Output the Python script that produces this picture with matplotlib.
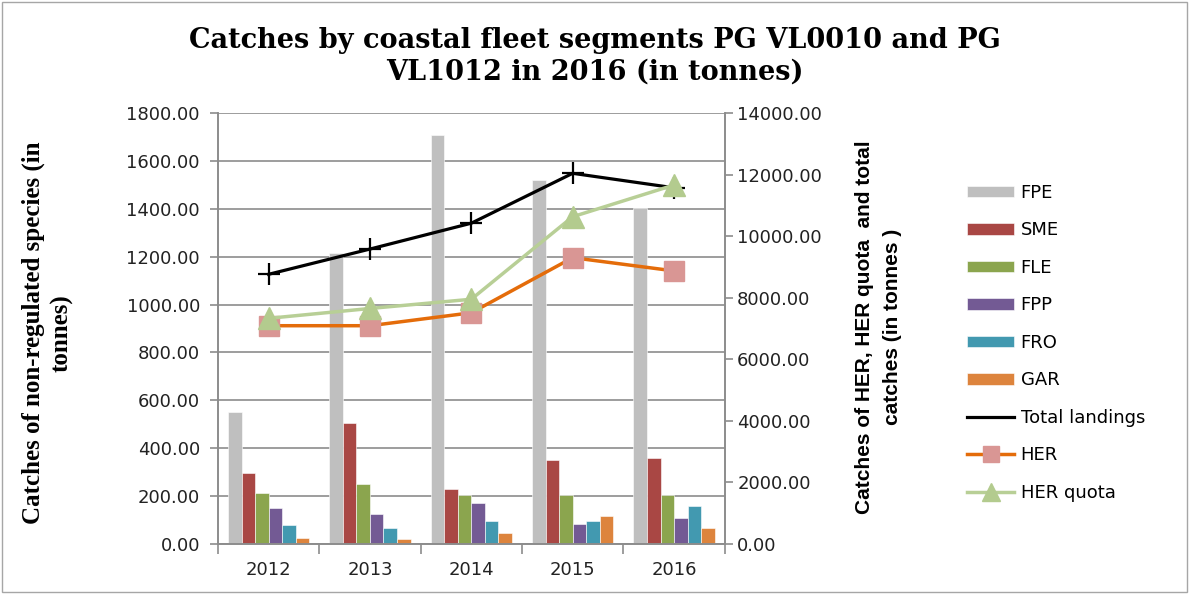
import numpy as np
import matplotlib
matplotlib.use("Agg")
import matplotlib.pyplot as plt
from matplotlib.patches import Rectangle
from matplotlib.lines import Line2D

years = ["2012", "2013", "2014", "2015", "2016"]

# catches of non-regulated species (left axis, tonnes)
fpe = [551, 1215, 1709, 1520, 1403]
sme = [296, 505, 230, 349, 358]
fle = [213, 249, 203, 203, 203]
fpp = [150, 125, 173, 83, 108]
fro = [79, 68, 96, 96, 160]
gar = [25, 21, 44, 117, 68]

# right axis, tonnes
total_landings = [8760, 9580, 10420, 12040, 11570]
her = [7090, 7090, 7510, 9300, 8870]
her_quota = [7330, 7650, 7950, 10630, 11660]

bar_series = [("FPE", fpe, "#BFBFBF"), ("SME", sme, "#A94744"),
              ("FLE", fle, "#8BA54E"), ("FPP", fpp, "#735A94"),
              ("FRO", fro, "#4299B0"), ("GAR", gar, "#DD843D")]

plt.rcParams["font.family"] = ["DejaVu Sans"]

fig = plt.figure(figsize=(11.89, 5.94), dpi=100)
ax = fig.add_axes([0.1833, 0.0842, 0.4262, 0.7256])
ax2 = ax.twinx()

x = np.arange(len(years))
w = 0.8 / 6
for i, (name, vals, col) in enumerate(bar_series):
    ax.bar(x - 0.4 + w * (i + 0.5), vals, w, color=col, label=name,
           edgecolor="white", linewidth=0.4, zorder=2)

ax2.plot(x, total_landings, color="black", lw=2.3, marker="+", ms=16,
         mew=1.6, label="Total landings")
ax2.plot(x, her, color="#E46C0A", lw=2.5, marker="s", ms=15,
         mfc="#D99694", mec="#D99694", label="HER")
ax2.plot(x, her_quota, color="#B8CF96", lw=2.5, marker="^", ms=16,
         mfc="#B3CB8E", mec="#B3CB8E", label="HER quota")

ax.set_xlim(-0.5, 4.5)
ax.set_ylim(0, 1800)
ax2.set_ylim(0, 14000)
ax.set_yticks(np.arange(0, 1801, 200))
ax.set_yticklabels(["%.2f" % v for v in np.arange(0, 1801, 200)])
ax2.set_yticks(np.arange(0, 14001, 2000))
ax2.set_yticklabels(["%.2f" % v for v in np.arange(0, 14001, 2000)])
ax.set_xticks(x)
ax.set_xticklabels(years)
ax.set_xticks(np.arange(-0.5, 4.6, 1), minor=True)

ax.grid(axis="y", color="#8C8C8C", lw=1.2, zorder=0)
ax.set_axisbelow(True)

for a in (ax, ax2):
    for s in a.spines.values():
        s.set_color("#8C8C8C")
        s.set_linewidth(1.2)
    a.spines["top"].set_visible(False)
    a.tick_params(labelsize=13, colors="#8C8C8C", labelcolor="#222222",
                  width=1.2, length=6)
ax.tick_params(axis="y", pad=7)
ax2.tick_params(axis="y", pad=3)
ax.tick_params(axis="x", which="major", length=0, pad=12)
ax.tick_params(axis="x", which="minor", length=7, width=1.2, color="#8C8C8C")

fig.text(0.5, 0.905, "Catches by coastal fleet segments PG VL0010 and PG\nVL1012 in 2016 (in tonnes)",
         ha="center", va="center", fontsize=19.5, fontweight="bold",
         family="DejaVu Serif", linespacing=1.2)

fig.text(0.04, 0.44, "Catches of non-regulated species (in\ntonnes)",
         rotation=90, ha="center", va="center", fontsize=18,
         fontweight="bold", family="Liberation Serif", linespacing=1.3)
fig.text(0.739, 0.45, "Catches of HER, HER quota  and total\ncatches (in tonnes )",
         rotation=90, ha="center", va="center", fontsize=15,
         fontweight="bold", family="Liberation Sans", linespacing=1.6)

# legend: total landings shown as plain line, as in the original
h1, l1 = ax.get_legend_handles_labels()
h2, l2 = ax2.get_legend_handles_labels()
h2[0] = Line2D([], [], color="black", lw=2.3)
fig.legend(h1 + h2, l1 + l2, loc="center left", bbox_to_anchor=(0.800, 0.423),
           frameon=False, fontsize=13, handlelength=2.6, labelspacing=1.08,
           handletextpad=0.35, handleheight=0.6, markerscale=0.8)

fig.patches.append(Rectangle((0.002, 0.003), 0.996, 0.994, transform=fig.transFigure,
                             fill=False, edgecolor="#A6A6A6", lw=1.0))

fig.savefig("out.png", dpi=100)
